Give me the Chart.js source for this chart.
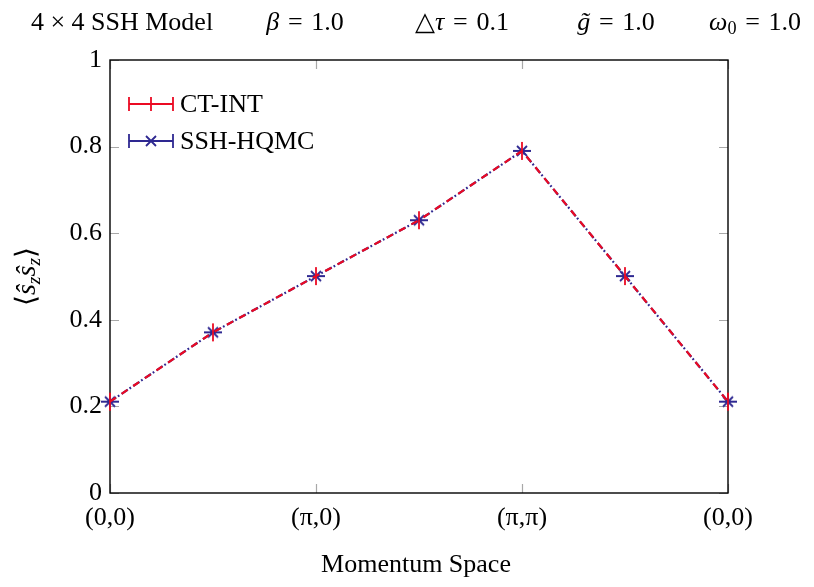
<!DOCTYPE html>
<html><head><meta charset="utf-8">
<script src="https://cdn.jsdelivr.net/npm/chart.js@4/dist/chart.umd.min.js"></script>
<style>html,body{margin:0;padding:0;background:#fff}#wrap{width:814px;height:587px}</style>
</head><body><div id="wrap"><canvas id="c" width="814" height="587"></canvas></div>
<script>
const categories = ['(0,0)', '', '(π,0)', '', '(π,π)', '', '(0,0)'];
const ctintValues = [0.211, 0.371, 0.501, 0.630, 0.790, 0.501, 0.211];
const hqmcValues = [0.211, 0.371, 0.501, 0.630, 0.790, 0.501, 0.211];
const yTickValues = [0, 0.2, 0.4, 0.6, 0.8, 1];
const yTickLabels = ['0', '0.2', '0.4', '0.6', '0.8', '1'];
const seriesNames = ['CT-INT', 'SSH-HQMC'];
const xAxisTitle = 'Momentum Space';

const RED = 'rgb(235,10,35)';
const BLUE = 'rgb(46,40,145)';
const FONT = "'Liberation Serif','Times New Roman',serif";
const FS = 26;

function makeMarker(kind) {
  const c = document.createElement('canvas');
  c.width = 20; c.height = 20;
  const g = c.getContext('2d');
  g.lineWidth = 1.8;
  if (kind === 'red') {
    g.strokeStyle = RED;
    g.beginPath();
    g.moveTo(10, 1); g.lineTo(10, 19);
    g.stroke();
  } else {
    g.strokeStyle = BLUE;
    g.beginPath();
    g.moveTo(1, 10); g.lineTo(19, 10);
    g.moveTo(5, 5); g.lineTo(15, 15);
    g.moveTo(15, 5); g.lineTo(5, 15);
    g.stroke();
  }
  return c;
}
const redMarker = makeMarker('red');
const blueMarker = makeMarker('blue');

function drawRuns(ctx, runs, cx, cy, size) {
  const parts = runs.map(r => {
    const s = r.sub ? size * 0.7 : size;
    const f = (r.it ? 'italic ' : '') + s + 'px ' + FONT;
    ctx.font = f;
    return { t: r.t, f: f, w: ctx.measureText(r.t).width, sub: r.sub };
  });
  const total = parts.reduce((a, p) => a + p.w, 0);
  let x = cx - total / 2;
  ctx.textBaseline = 'alphabetic';
  ctx.textAlign = 'left';
  const base = cy + size * 0.33;
  parts.forEach(p => {
    ctx.font = p.f;
    ctx.fillText(p.t, x, p.sub ? base + size * 0.17 : base);
    x += p.w;
  });
}

const decor = {
  id: 'decor',
  beforeDatasetsDraw(chart) {
    const { ctx, chartArea: a, scales } = chart;
    ctx.save();
    ctx.strokeStyle = '#a8a8a8';
    ctx.lineWidth = 1.2;
    const tl = 9;
    ctx.beginPath();
    yTickValues.forEach(v => {
      const y = Math.round(scales.y.getPixelForValue(v)) + 0.5;
      ctx.moveTo(a.left, y); ctx.lineTo(a.left + tl, y);
      ctx.moveTo(a.right, y); ctx.lineTo(a.right - tl, y);
    });
    categories.forEach((c, i) => {
      if (!c) return;
      const x = Math.round(scales.x.getPixelForValue(i)) + 0.5;
      ctx.moveTo(x, a.bottom); ctx.lineTo(x, a.bottom - tl);
      ctx.moveTo(x, a.top); ctx.lineTo(x, a.top + tl);
    });
    ctx.stroke();
    ctx.strokeStyle = '#000';
    ctx.lineWidth = 1.4;
    ctx.strokeRect(a.left, a.top, a.right - a.left, a.bottom - a.top);
    ctx.restore();
  },
  afterDraw(chart) {
    const { ctx, chartArea: a } = chart;
    ctx.save();
    ctx.fillStyle = '#000';
    drawRuns(ctx, [{ t: '4 × 4 SSH Model' }], 122, 21, FS);
    drawRuns(ctx, [{ t: 'β', it: true }, { t: '\u2004=\u20041.0' }], 305, 21, FS);
    drawRuns(ctx, [{ t: '△' }, { t: 'τ', it: true }, { t: '\u2004=\u20040.1' }], 462, 21, FS);
    drawRuns(ctx, [{ t: 'g\u0303', it: true }, { t: '\u2004=\u20041.0' }], 616, 21, FS);
    drawRuns(ctx, [{ t: 'ω', it: true }, { t: '0', sub: true }, { t: '\u2004=\u20041.0' }], 755, 21, FS);
    drawRuns(ctx, [{ t: xAxisTitle }], (a.left + a.right) / 2 - 3, 563, FS);
    ctx.save();
    ctx.translate(26, (a.top + a.bottom) / 2);
    ctx.rotate(-Math.PI / 2);
    drawRuns(ctx, [{ t: '⟨' }, { t: 'ŝ', it: true }, { t: 'z', it: true, sub: true }, { t: 'ŝ', it: true }, { t: 'z', it: true, sub: true }, { t: '⟩' }], 0, 0, 28);
    ctx.restore();
    const lx0 = 129, lx1 = 173, lxm = 151;
    const rows = [104, 141];
    ctx.lineWidth = 1.8;
    ctx.strokeStyle = RED;
    ctx.beginPath();
    ctx.moveTo(lx0, rows[0]); ctx.lineTo(lx1, rows[0]);
    [lx0, lxm, lx1].forEach(x => { ctx.moveTo(x, rows[0] - 7); ctx.lineTo(x, rows[0] + 7); });
    ctx.stroke();
    ctx.strokeStyle = BLUE;
    ctx.beginPath();
    ctx.moveTo(lx0, rows[1]); ctx.lineTo(lx1, rows[1]);
    [lx0, lx1].forEach(x => { ctx.moveTo(x, rows[1] - 7); ctx.lineTo(x, rows[1] + 7); });
    ctx.moveTo(lxm - 5, rows[1] - 5); ctx.lineTo(lxm + 5, rows[1] + 5);
    ctx.moveTo(lxm + 5, rows[1] - 5); ctx.lineTo(lxm - 5, rows[1] + 5);
    ctx.stroke();
    ctx.fillStyle = '#000';
    ctx.font = FS + 'px ' + FONT;
    ctx.textAlign = 'left';
    ctx.textBaseline = 'middle';
    ctx.fillText(seriesNames[0], 180, rows[0] + 1);
    ctx.fillText(seriesNames[1], 180, rows[1] + 1);
    ctx.restore();
  }
};

new Chart(document.getElementById('c'), {
  type: 'line',
  data: {
    labels: categories,
    datasets: [
      {
        label: seriesNames[0], data: ctintValues,
        borderColor: RED, backgroundColor: RED, borderWidth: 2.2,
        borderDash: [7, 7], pointStyle: redMarker, pointRadius: 9,
        tension: 0, fill: false, clip: false, order: 1
      },
      {
        label: seriesNames[1], data: hqmcValues,
        borderColor: BLUE, backgroundColor: BLUE, borderWidth: 2.2,
        borderDash: [7.5, 2, 1.8, 2.7], pointStyle: blueMarker, pointRadius: 9,
        tension: 0, fill: false, clip: false, order: 2
      }
    ]
  },
  options: {
    responsive: false, animation: false, devicePixelRatio: 1,
    layout: { padding: { top: 60, right: 86, left: 0, bottom: 0 } },
    plugins: { legend: { display: false }, title: { display: false }, tooltip: { enabled: false } },
    scales: {
      x: {
        type: 'category', offset: false,
        grid: { display: false, drawTicks: false }, border: { display: false },
        ticks: { autoSkip: false, maxRotation: 0, minRotation: 0, padding: 10, color: '#000', font: { family: FONT, size: FS } },
        afterFit(s) { s.height = 94; }
      },
      y: {
        min: 0, max: 1,
        grid: { display: false, drawTicks: false }, border: { display: false },
        afterBuildTicks(s) { s.ticks = yTickValues.map(v => ({ value: v })); },
        ticks: { padding: 8, color: '#000', font: { family: FONT, size: FS },
          callback: (v, i) => yTickLabels[i] },
        afterFit(s) { s.width = 110; }
      }
    }
  },
  plugins: [decor]
});
</script></body></html>
